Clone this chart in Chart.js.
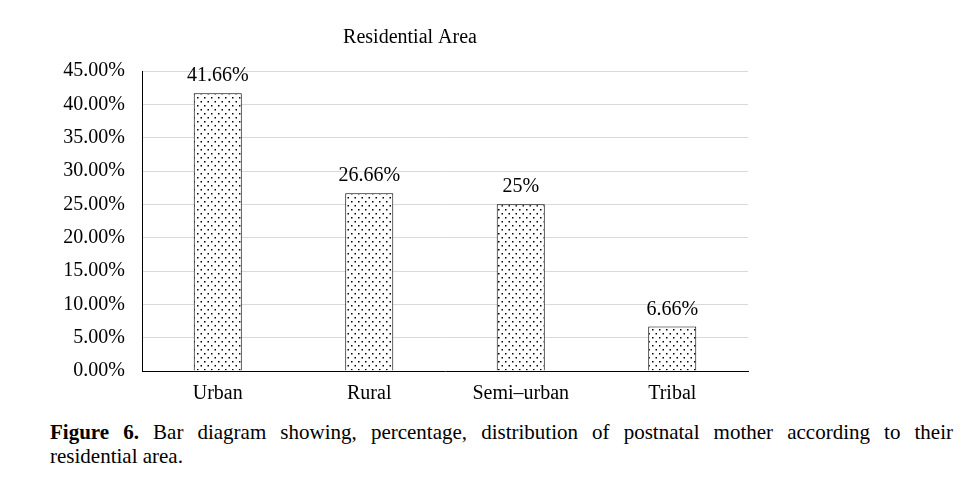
<!DOCTYPE html>
<html>
<head>
<meta charset="utf-8">
<script src="https://cdn.jsdelivr.net/npm/chart.js@4.4.0/dist/chart.umd.min.js"></script>
<style>
  body { margin: 0; background: #fff; }
  #wrap { position: relative; width: 976px; height: 490px; }
  #myChart { position: absolute; left: 0; top: 0; }
  #caption {
    position: absolute; left: 50px; top: 420px; width: 903px;
    font-family: "Liberation Serif", "Times New Roman", serif;
    font-size: 21px; line-height: 24px; color: #000;
  }
  #caption .l1 { text-align: justify; text-align-last: justify; }
</style>
</head>
<body>
<div id="wrap">
  <canvas id="myChart" width="976" height="410"></canvas>
  <div id="caption">
    <div class="l1"><b>Figure 6.</b> Bar diagram showing, percentage, distribution of postnatal mother according to their</div>
    <div>residential area.</div>
  </div>
</div>
<script>
const categorias = ['Urban', 'Rural', 'Semi\u2013urban', 'Tribal']
const valores = [41.66, 26.66, 25, 6.66]
const etiquetas = ['41.66%', '26.66%', '25%', '6.66%']
const titulo = 'Residential Area'
const fuente = '"Liberation Serif", "Times New Roman", serif'

// dotted fill like the original
const patron = () => {
    const c = document.createElement('canvas')
    c.width = 7
    c.height = 8
    const g = c.getContext('2d')
    g.fillStyle = '#fff'
    g.fillRect(0, 0, 7, 8)
    g.fillStyle = '#000'
    g.fillRect(1, 1, 1.5, 1.5)
    g.fillRect(4.5, 5, 1.5, 1.5)
    return g.createPattern(c, 'repeat')
}

const etiquetasPlugin = {
    id: 'etiquetas',
    afterDatasetsDraw(chart) {
        const ctx = chart.ctx
        ctx.save()
        ctx.font = '20px ' + fuente
        ctx.fillStyle = '#000'
        ctx.textAlign = 'center'
        ctx.textBaseline = 'alphabetic'
        chart.getDatasetMeta(0).data.forEach((bar, i) => {
            ctx.fillText(etiquetas[i], bar.x, bar.y - 12)
        })
        ctx.fillText(titulo, 410, 43)
        ctx.restore()
    }
}

var ctx = document.getElementById('myChart')
var myChart = new Chart(ctx, {
    type: 'bar',
    data: {
        labels: categorias,
        datasets: [{
            data: valores,
            backgroundColor: patron(),
            borderColor: '#000',
            borderWidth: 1,
            categoryPercentage: 1,
            barPercentage: 0.317
        }]
    },
    options: {
        responsive: false,
        animation: false,
        layout: { padding: { top: 71, right: 228, left: 0, bottom: 0 } },
        plugins: {
            legend: { display: false },
            tooltip: { enabled: false },
            title: { display: false }
        },
        scales: {
            x: {
                grid: { display: false, drawTicks: false },
                border: { color: '#000', width: 1 },
                ticks: { color: '#000', font: { family: fuente, size: 20 }, padding: 11 },
                afterFit: (s) => { s.height = 39 }
            },
            y: {
                min: 0,
                max: 45,
                grid: { color: '#d9d9d9', drawTicks: false },
                border: { color: '#000', width: 1 },
                ticks: {
                    stepSize: 5,
                    color: '#000',
                    padding: 17,
                    font: { family: fuente, size: 20 },
                    callback: (v) => v.toFixed(2) + '%'
                },
                afterFit: (s) => { s.width = 142 }
            }
        }
    },
    plugins: [etiquetasPlugin]
})
</script>
</body>
</html>
